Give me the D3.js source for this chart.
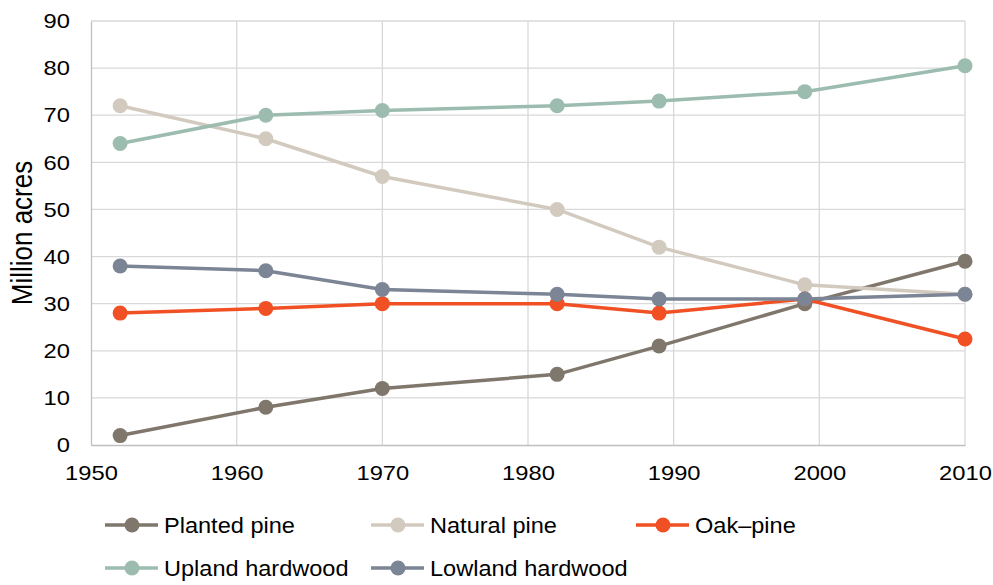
<!DOCTYPE html>
<html><head><meta charset="utf-8">
<script src="https://cdn.jsdelivr.net/npm/d3@7"></script>
<style>body{margin:0;background:#fff}svg{display:block;font-family:"Liberation Sans",Arial,sans-serif}</style>
</head><body><svg id="c" width="993" height="585"></svg>
<script>
const years = [1952, 1962, 1970, 1982, 1989, 1999, 2010];
const plantedPine = [2, 8, 12, 15, 21, 30, 39];
const naturalPine = [72, 65, 57, 50, 42, 34, 32];
const oakPine = [28, 29, 30, 30, 28, 31, 22.5];
const uplandHardwood = [64, 70, 71, 72, 73, 75, 80.5];
const lowlandHardwood = [38, 37, 33, 32, 31, 31, 32];
const seriesNames = ["Planted pine", "Natural pine", "Oak\u2013pine", "Upland hardwood", "Lowland hardwood"];
const xTicks = [1950, 1960, 1970, 1980, 1990, 2000, 2010];
const yTicks = [0, 10, 20, 30, 40, 50, 60, 70, 80, 90];

const colors = ["#7f766c", "#d2cabe", "#f05023", "#9cbcaf", "#7b8595"];
const seriesVals = [plantedPine, naturalPine, oakPine, uplandHardwood, lowlandHardwood];

const svg = d3.select("#c");
const L = 91, R = 965, T = 21, B = 445;
const x = d3.scaleLinear().domain([1950, 2010]).range([L, R]);
const y = d3.scaleLinear().domain([0, 90]).range([B, T]);

function stretch(sel, k) {
  sel.each(function () {
    const w = this.getComputedTextLength();
    d3.select(this).attr("textLength", w * k).attr("lengthAdjust", "spacingAndGlyphs");
  });
}

// gridlines
svg.append("g").selectAll("line").data(yTicks.filter(d => d > 0)).join("line")
  .attr("x1", L).attr("x2", R).attr("y1", d => y(d)).attr("y2", d => y(d))
  .attr("stroke", "#d9d9d9").attr("stroke-width", 1.3);
svg.append("g").selectAll("line").data(xTicks.filter(d => d > 1950)).join("line")
  .attr("x1", d => x(d)).attr("x2", d => x(d)).attr("y1", T).attr("y2", B)
  .attr("stroke", "#d9d9d9").attr("stroke-width", 1.3);

// axes
const ya = svg.append("g").attr("transform", `translate(${L},0)`)
  .call(d3.axisLeft(y).tickValues(yTicks).tickSize(0).tickPadding(21));
const xa = svg.append("g").attr("transform", `translate(0,${B})`)
  .call(d3.axisBottom(x).tickValues(xTicks).tickFormat(d3.format("d")).tickSize(0).tickPadding(20));
[ya, xa].forEach(a => {
  a.select(".domain").attr("stroke", "#bfbfbf").attr("stroke-width", 1.3);
  a.selectAll("text").attr("font-size", 21).attr("fill", "#000")
    .attr("font-family", "'Liberation Sans', Arial, sans-serif");
  stretch(a.selectAll("text"), 1.13);
});

svg.append("text").attr("transform", `translate(32,${(T + B) / 2}) scale(1.1,1) rotate(-90)`)
  .attr("text-anchor", "middle").attr("font-size", 26).text("Million acres");

const line = d3.line().x((d, i) => x(years[i])).y(d => y(d));
seriesVals.forEach((vals, k) => {
  const g = svg.append("g");
  g.append("path").attr("d", line(vals)).attr("fill", "none")
    .attr("stroke", colors[k]).attr("stroke-width", 3.5);
  g.selectAll("circle").data(vals).join("circle")
    .attr("cx", (d, i) => x(years[i])).attr("cy", d => y(d)).attr("r", 7.5)
    .attr("fill", colors[k]);
});

// legend
const legPos = [[105, 525], [371, 525], [636, 525], [105, 568], [371, 568]];
seriesNames.forEach((n, k) => {
  const [lx, ly] = legPos[k];
  const g = svg.append("g").attr("transform", `translate(${lx},${ly})`);
  g.append("line").attr("x1", 0).attr("x2", 53).attr("stroke", colors[k]).attr("stroke-width", 3.5);
  g.append("circle").attr("cx", 27).attr("r", 7.5).attr("fill", colors[k]);
  const t = g.append("text").attr("x", 59).attr("dy", "0.35em").attr("font-size", 22).text(n);
  stretch(t, 1.07);
});
</script></body></html>
